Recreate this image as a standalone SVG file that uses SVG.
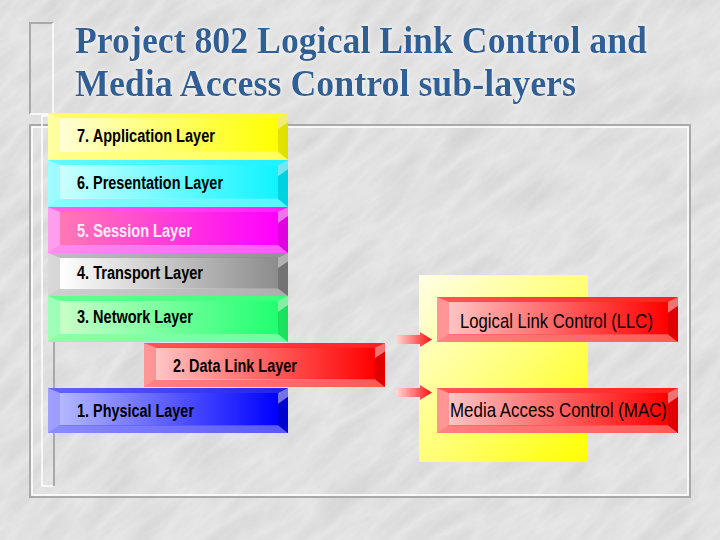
<svg xmlns="http://www.w3.org/2000/svg" xmlns:xlink="http://www.w3.org/1999/xlink" width="720" height="540" viewBox="0 0 720 540">
<style>
.lbl{font-family:"Liberation Sans",Arial,sans-serif;font-weight:bold;font-size:18px;fill:#000}
.sub{font-family:"Liberation Sans",Arial,sans-serif;font-size:21px;fill:#000}
.title{font-family:"Liberation Serif","Times New Roman",serif;font-weight:bold;font-size:38px;fill:#2f6096}
.frameG{fill:none;stroke:#a9a9a9;stroke-width:2}
.frameW{fill:none;stroke:#ffffff;stroke-width:1.5}
</style>
<defs>
<filter id="marble" x="0" y="0" width="100%" height="100%">
<feTurbulence type="turbulence" baseFrequency="0.012 0.04" numOctaves="4" seed="11"/>
<feColorMatrix type="matrix" values="0 0 0 0 0.45  0 0 0 0 0.45  0 0 0 0 0.45  1.3 0 0 0 -0.1"/>
</filter>
<filter id="glow" x="-5%" y="-20%" width="110%" height="140%">
<feGaussianBlur in="SourceAlpha" stdDeviation="2"/>
<feColorMatrix type="matrix" values="0 0 0 0 1  0 0 0 0 1  0 0 0 0 1  0 0 0 0.9 0"/>
<feMerge><feMergeNode/><feMergeNode in="SourceGraphic"/></feMerge>
</filter>
<linearGradient id="fY"><stop offset="0" stop-color="#ffffd6"/><stop offset="1" stop-color="#ffff00"/></linearGradient>
<linearGradient id="bY"><stop offset="0" stop-color="#ffff50"/><stop offset="1" stop-color="#ffff00"/></linearGradient>
<linearGradient id="fC"><stop offset="0" stop-color="#ccffff"/><stop offset="1" stop-color="#10f4ff"/></linearGradient>
<linearGradient id="bC"><stop offset="0" stop-color="#50f8ff"/><stop offset="1" stop-color="#00f0ff"/></linearGradient>
<linearGradient id="fM"><stop offset="0" stop-color="#ff78b4"/><stop offset="1" stop-color="#ff00ff"/></linearGradient>
<linearGradient id="bM"><stop offset="0" stop-color="#ff50e0"/><stop offset="1" stop-color="#ff00ff"/></linearGradient>
<linearGradient id="fG"><stop offset="0" stop-color="#ffffff"/><stop offset="1" stop-color="#8c8c8c"/></linearGradient>
<linearGradient id="bG"><stop offset="0" stop-color="#b8b8b8"/><stop offset="1" stop-color="#828282"/></linearGradient>
<linearGradient id="fN"><stop offset="0" stop-color="#c8ffc8"/><stop offset="1" stop-color="#20ff70"/></linearGradient>
<linearGradient id="bN"><stop offset="0" stop-color="#50ff80"/><stop offset="1" stop-color="#20ff6a"/></linearGradient>
<linearGradient id="fR"><stop offset="0" stop-color="#ffc4c4"/><stop offset="1" stop-color="#ff0000"/></linearGradient>
<linearGradient id="bR"><stop offset="0" stop-color="#ff4040"/><stop offset="1" stop-color="#ff0000"/></linearGradient>
<linearGradient id="fB"><stop offset="0" stop-color="#b4b8ff"/><stop offset="1" stop-color="#0000ff"/></linearGradient>
<linearGradient id="bB"><stop offset="0" stop-color="#5050ff"/><stop offset="1" stop-color="#0000ee"/></linearGradient>
<linearGradient id="panel" x1="0" y1="0" x2="1" y2="1"><stop offset="0" stop-color="#ffffe6"/><stop offset="0.55" stop-color="#ffff70"/><stop offset="1" stop-color="#ffff00"/></linearGradient>
<linearGradient id="arrowG"><stop offset="0" stop-color="#ffd8d8"/><stop offset="1" stop-color="#ff1010"/></linearGradient>
<g id="bevel">
<polygon points="0,0 240,0 230,5 12,5" fill="#ffffff" fill-opacity="0.12"/>
<polygon points="0,0 12,5 12,38 0,46" fill="#ffffff" fill-opacity="0.45"/>
<polygon points="0,46 12,38 230,38 240,46" fill="#ffffff" fill-opacity="0.35"/>
<polygon points="240,0 240,46 230,38 230,5" fill="#000000" fill-opacity="0.12"/>
<polygon points="240,0 230,5 230,16 240,9" fill="#ffffff" fill-opacity="0.45"/>
</g>
</defs>

<rect width="720" height="540" fill="#e6e6e6"/>
<g transform="rotate(-40 360 270)">
<rect x="-200" y="-260" width="1120" height="1060" filter="url(#marble)" opacity="0.32"/>
</g>

<g id="frames">
<path d="M53,23 L30,23 L30,114" class="frameG"/>
<path d="M30,114 L53,114 L53,23" class="frameW"/>
<rect x="30" y="125" width="660" height="372" class="frameG"/>
<rect x="32" y="127" width="656" height="368" class="frameW"/>
<path d="M54,116 L42,116 L42,486 L54,486" class="frameW"/>
<path d="M54,116 L54,486" class="frameG"/>
</g>

<g id="title" filter="url(#glow)">
<text class="title" x="75" y="53" textLength="572" lengthAdjust="spacingAndGlyphs">Project 802 Logical Link Control and</text>
<text class="title" x="75" y="96" textLength="501" lengthAdjust="spacingAndGlyphs">Media Access Control sub-layers</text>
</g>

<g id="layer7">
<rect x="48" y="113" width="240" height="47" fill="url(#bY)"/>
<rect x="60" y="118" width="218" height="34" fill="url(#fY)"/>
<use xlink:href="#bevel" transform="translate(48,113) scale(1,1.02)"/>
<text class="lbl" x="77" y="142" textLength="138" lengthAdjust="spacingAndGlyphs">7. Application Layer</text>
</g>
<g id="layer6">
<rect x="48" y="160" width="240" height="47" fill="url(#bC)"/>
<rect x="60" y="165" width="218" height="34" fill="url(#fC)"/>
<use xlink:href="#bevel" transform="translate(48,160) scale(1,1.02)"/>
<text class="lbl" x="77" y="189" textLength="146" lengthAdjust="spacingAndGlyphs">6. Presentation Layer</text>
</g>
<g id="layer5">
<rect x="48" y="207" width="240" height="46" fill="url(#bM)"/>
<rect x="60" y="212" width="218" height="33" fill="url(#fM)"/>
<use xlink:href="#bevel" transform="translate(48,207)"/>
<text class="lbl" x="77" y="237" textLength="115" lengthAdjust="spacingAndGlyphs" style="fill:#ffeaf6">5. Session Layer</text>
</g>
<g id="layer4">
<rect x="48" y="253" width="240" height="43" fill="url(#bG)"/>
<rect x="60" y="258" width="218" height="31" fill="url(#fG)"/>
<use xlink:href="#bevel" transform="translate(48,253) scale(1,0.935)"/>
<text class="lbl" x="77" y="279" textLength="126" lengthAdjust="spacingAndGlyphs">4. Transport Layer</text>
</g>
<g id="layer3">
<rect x="48" y="296" width="240" height="46" fill="url(#bN)"/>
<rect x="60" y="301" width="218" height="33" fill="url(#fN)"/>
<use xlink:href="#bevel" transform="translate(48,296)"/>
<text class="lbl" x="77" y="323" textLength="116" lengthAdjust="spacingAndGlyphs">3. Network Layer</text>
</g>
<g id="layer2">
<rect x="144" y="343" width="241" height="44" fill="url(#bR)"/>
<rect x="156" y="348" width="219" height="32" fill="url(#fR)"/>
<use xlink:href="#bevel" transform="translate(144,343) scale(1.004,0.957)"/>
<text class="lbl" x="173" y="372" textLength="124" lengthAdjust="spacingAndGlyphs">2. Data Link Layer</text>
</g>
<g id="layer1">
<rect x="48" y="388" width="240" height="45" fill="url(#bB)"/>
<rect x="60" y="393" width="218" height="32" fill="url(#fB)"/>
<use xlink:href="#bevel" transform="translate(48,388) scale(1,0.978)"/>
<text class="lbl" x="77" y="417" textLength="117" lengthAdjust="spacingAndGlyphs">1. Physical Layer</text>
</g>

<g id="sublayer-panel">
<rect x="419" y="275" width="169" height="187" fill="url(#panel)"/>
</g>

<g id="llc">
<rect x="437" y="297" width="241" height="45" fill="url(#bR)"/>
<rect x="449" y="302" width="219" height="32" fill="url(#fR)"/>
<use xlink:href="#bevel" transform="translate(437,297) scale(1.004,0.978)"/>
<text class="sub" x="460" y="328" textLength="193" lengthAdjust="spacingAndGlyphs">Logical Link Control (LLC)</text>
</g>
<g id="mac">
<rect x="437" y="388" width="241" height="45" fill="url(#bR)"/>
<rect x="449" y="393" width="219" height="32" fill="url(#fR)"/>
<use xlink:href="#bevel" transform="translate(437,388) scale(1.004,0.978)"/>
<text class="sub" x="450" y="417" textLength="217" lengthAdjust="spacingAndGlyphs">Media Access Control (MAC)</text>
</g>

<g id="connectors">
<polygon points="396,335 420,335 420,332 432,339.5 420,347 420,344 396,344" fill="url(#arrowG)"/>
<polygon points="396,388 420,388 420,385 432,392.5 420,400 420,397 396,397" fill="url(#arrowG)"/>
</g>
</svg>
